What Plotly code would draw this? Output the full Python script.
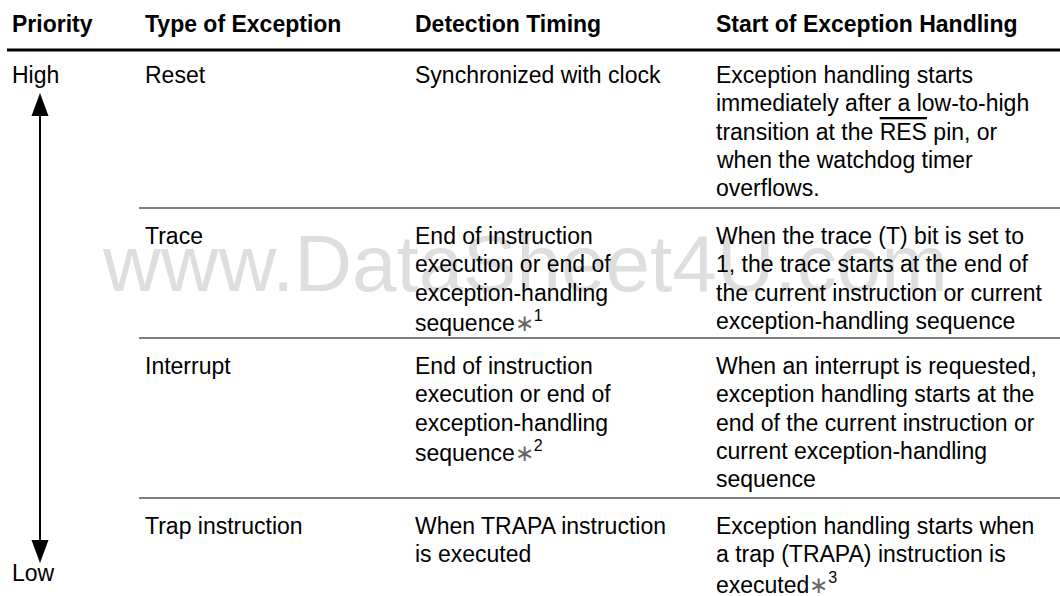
import plotly.graph_objects as go

# ---- table content ----
headers = ["Priority", "Type of Exception", "Detection Timing", "Start of Exception Handling"]
priority_high = "High"
priority_low = "Low"
exception_types = [["Reset"], ["Trace"], ["Interrupt"], ["Trap instruction"]]
detection_timing = [
    ["Synchronized with clock"],
    ["End of instruction", "execution or end of", "exception-handling",
     "sequence<span style=\"color:#666\">\u2217</span><sup>1</sup>"],
    ["End of instruction", "execution or end of", "exception-handling",
     "sequence<span style=\"color:#666\">\u2217</span><sup>2</sup>"],
    ["When TRAPA instruction", "is executed"],
]
start_handling = [
    ["Exception handling starts", "immediately after a low-to-high",
     "transition at the <span style=\"text-decoration:overline\">RES</span> pin, or",
     "when the watchdog timer", "overflows."],
    ["When the trace (T) bit is set to", "1, the trace starts at the end of",
     "the current instruction or current", "exception-handling sequence"],
    ["When an interrupt is requested,", "exception handling starts at the",
     "end of the current instruction or", "current exception-handling", "sequence"],
    ["Exception handling starts when", "a trap (TRAPA) instruction is",
     "executed<span style=\"color:#666\">\u2217</span><sup>3</sup>"],
]
watermark = "www.DataSheet4U.com"

# ---- layout constants ----
W, H = 1060, 596
col_x = [10, 143, 413, 714]
row_tops = [50, 208, 338, 498]
first_line_off = [25, 28, 28, 28]
line_gap = 28.3
FONT = "Liberation Sans, Arial, Helvetica, sans-serif"
FS = 23

fig = go.Figure()
fig.add_trace(go.Scatter(x=[0, W], y=[0, H], mode="markers",
                         marker=dict(opacity=0), hoverinfo="skip", showlegend=False))

annotations = []
# watermark (underneath)
annotations.append(dict(x=525, y=263, text=watermark, showarrow=False,
                        xanchor="center", yanchor="middle",
                        font=dict(family=FONT, size=80, color="#dedede")))

# headers
for cx, h in zip(col_x, headers):
    annotations.append(dict(x=cx, y=24, text="<b>" + h + "</b>", showarrow=False,
                            xanchor="left", yanchor="middle",
                            font=dict(family=FONT, size=FS, color="#000")))

def add_cell(cx, y0, lines):
    for i, ln in enumerate(lines):
        annotations.append(dict(x=cx, y=y0 + i * line_gap, text=ln, showarrow=False,
                                xanchor="left", yanchor="middle",
                                font=dict(family=FONT, size=FS, color="#000")))

for r, top in enumerate(row_tops):
    y0 = top + first_line_off[r]
    add_cell(col_x[1], y0, exception_types[r])
    add_cell(col_x[2], y0, detection_timing[r])
    add_cell(col_x[3], y0, start_handling[r])

# priority labels
annotations.append(dict(x=col_x[0], y=75, text=priority_high, showarrow=False,
                        xanchor="left", yanchor="middle",
                        font=dict(family=FONT, size=FS, color="#000")))
annotations.append(dict(x=col_x[0], y=573, text=priority_low, showarrow=False,
                        xanchor="left", yanchor="middle",
                        font=dict(family=FONT, size=FS, color="#000")))

shapes = []
# thick header rule
shapes.append(dict(type="line", x0=7, x1=W, y0=50, y1=50, line=dict(color="#000", width=3)))
# row separators
for top in row_tops[1:]:
    shapes.append(dict(type="line", x0=139, x1=W, y0=top, y1=top, line=dict(color="#000", width=1.2)))
# priority arrow
ax = 40
shapes.append(dict(type="line", x0=ax, x1=ax, y0=112, y1=544, line=dict(color="#000", width=2)))
shapes.append(dict(type="path", path=f"M {ax} 93 L {ax-8.5} 116 L {ax+8.5} 116 Z",
                   fillcolor="#000", line=dict(color="#000", width=0)))
shapes.append(dict(type="path", path=f"M {ax} 563 L {ax-8.5} 540 L {ax+8.5} 540 Z",
                   fillcolor="#000", line=dict(color="#000", width=0)))

fig.update_layout(
    width=W, height=H, margin=dict(l=0, r=0, t=0, b=0),
    paper_bgcolor="white", plot_bgcolor="white",
    xaxis=dict(range=[0, W], visible=False, fixedrange=True),
    yaxis=dict(range=[H, 0], visible=False, fixedrange=True),
    annotations=annotations, shapes=shapes, showlegend=False,
)
fig.write_html("out.html", config={"displayModeBar": False},
               post_script="document.body.style.margin='0';document.body.style.overflow='hidden';")
